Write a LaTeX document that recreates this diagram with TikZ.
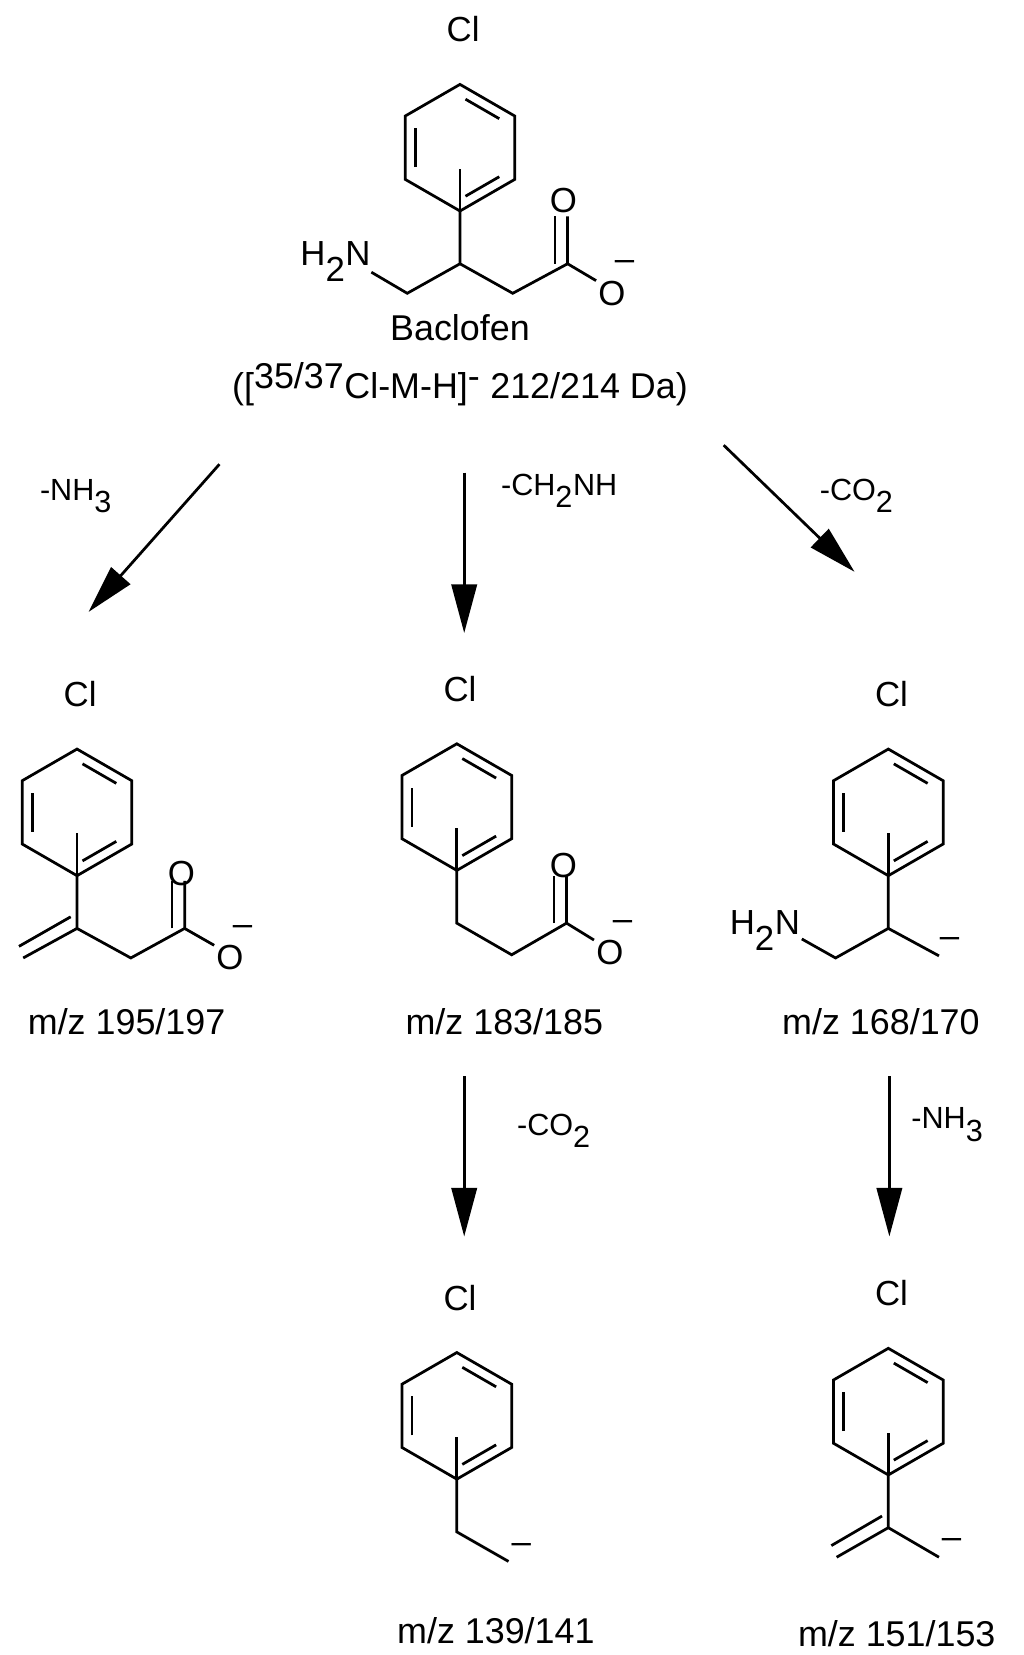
\documentclass[tikz,border=0pt]{standalone}
\usepackage{fontspec}
\setmainfont{Liberation Sans}
\usetikzlibrary{arrows.meta,calc}
\newcommand\benz[3]{%
  \coordinate (#1) at (#2,#3);
  \draw[bond] ($(#1)+(90:60)$) -- ($(#1)+(30:60)$) -- ($(#1)+(-30:60)$) -- ($(#1)+(-90:60)$) -- ($(#1)+(-150:60)$) -- ($(#1)+(150:60)$) -- cycle;
  \draw[bond,shorten >=6pt,shorten <=6pt] ($(#1)+(150:49)$) -- ($(#1)+(210:49)$);
  \draw[bond,shorten >=6pt,shorten <=6pt] ($(#1)+(90:49)$) -- ($(#1)+(30:49)$);
  \draw[bond,shorten >=6pt,shorten <=6pt] ($(#1)+(-30:49)$) -- ($(#1)+(-90:49)$);
  \draw[bond] ($(#1)+(90:60)$) -- ++(0,-40);
  \node[atom] (#1cl) at ($(#1)+(3,-112)$) {Cl};
}
\tikzset{bond/.style={line width=2.6pt,line join=miter},
  atom/.style={font=\fontsize{33}{36}\selectfont,inner sep=0pt},
  lab/.style={font=\fontsize{34}{38}\selectfont,inner sep=0pt},
  sm/.style={font=\fontsize{29}{32}\selectfont,inner sep=0pt},
  arr/.style={line width=2.6pt,-{Triangle[length=46pt,width=24pt]}}}
\begin{document}
\begin{tikzpicture}[x=1pt,y=-1pt]
\useasboundingbox (0,0) rectangle (970.4,1568.7);
% molecule 1
\benz{r1}{436}{140}
\coordinate (a1) at (436,200);
\draw[bond] (a1) -- (436,250) -- (386,278) -- (352,258);
\node[atom] (n1) at (318,248) {H$_{\textrm 2}$N};
\draw[bond] (436,250) -- (486,278) -- (538,250) -- (538,205);
\draw[bond] (526,250) -- (526,205);
\node[atom] (o1) at (534,190) {O};
\draw[bond] (538,250) -- (565,266);
\node[atom] (o1b) at (580,278) {O};
\node[atom] (m1) at (592,252) {--};
\node[lab] (t1) at (436,311) {Baclofen};
\node[lab] (t2) at (436,364) {([$^{\textrm{35/37}}$Cl-M-H]$^{\textrm{-}}$ 212/214 Da)};
% arrows
\coordinate (s1) at (208,440); \coordinate (e1) at (84,580);
\coordinate (s2) at (440,448); \coordinate (e2) at (440,600);
\coordinate (s3) at (686,422); \coordinate (e3) at (810,542);
\draw[arr] (s1) -- (e1); \draw[arr] (s2) -- (e2); \draw[arr] (s3) -- (e3);
\node[sm] (l1) at (72,470) {-NH$_{\textrm 3}$};
\node[sm] (l2) at (530,465) {-CH$_{\textrm 2}$NH};
\node[sm] (l3) at (812,470) {-CO$_{\textrm 2}$};
% molecule 2
\benz{r2}{73}{770}
\draw[bond] (73,830) -- (73,880) -- (124,908) -- (175,880) -- (175,835);
\draw[bond] (163,880) -- (163,835);
\draw[bond] (73,880) -- (22,908);
\draw[bond] (67,869) -- (18,897);
\node[atom] (o2) at (172,828) {O};
\draw[bond] (175,880) -- (203,896);
\node[atom] (o2b) at (218,908) {O};
\node[atom] (m2) at (230,882) {--};
\node[lab] (t3) at (120,968) {m/z 195/197};
% molecule 3
\benz{r3}{433}{765}
\draw[bond] (433,825) -- (433,875) -- (485,905) -- (537,875) -- (537,830);
\draw[bond] (525,875) -- (525,830);
\node[atom] (o3) at (534,820) {O};
\draw[bond] (537,875) -- (563,891);
\node[atom] (o3b) at (578,903) {O};
\node[atom] (m3) at (590,877) {--};
\node[lab] (t4) at (478,968) {m/z 183/185};
% molecule 4
\benz{r4}{842}{770}
\draw[bond] (842,830) -- (842,880) -- (792,908) -- (760,890);
\node[atom] (n4) at (725,882) {H$_{\textrm 2}$N};
\draw[bond] (842,880) -- (890,906);
\node[atom] (m4) at (900,893) {--};
\node[lab] (t5) at (835,968) {m/z 168/170};
% lower arrows
\coordinate (s4) at (440,1020); \coordinate (e4) at (440,1172);
\coordinate (s5) at (843,1020); \coordinate (e5) at (843,1172);
\draw[arr] (s4) -- (e4); \draw[arr] (s5) -- (e5);
\node[sm] (l4) at (525,1072) {-CO$_{\textrm 2}$};
\node[sm] (l5) at (898,1066) {-NH$_{\textrm 3}$};
% molecule 5
\benz{r5}{433}{1342}
\draw[bond] (433,1402) -- (433,1452) -- (482,1480);
\node[atom] (m5) at (494,1468) {--};
\node[lab] (t6) at (470,1546) {m/z 139/141};
% molecule 6
\benz{r6}{842}{1338}
\draw[bond] (842,1398) -- (842,1448) -- (890,1476);
\draw[bond] (842,1448) -- (793,1476);
\draw[bond] (836,1437) -- (788,1465);
\node[atom] (m6) at (902,1463) {--};
\node[lab] (t7) at (850,1548) {m/z 151/153};
\end{tikzpicture}
\end{document}
